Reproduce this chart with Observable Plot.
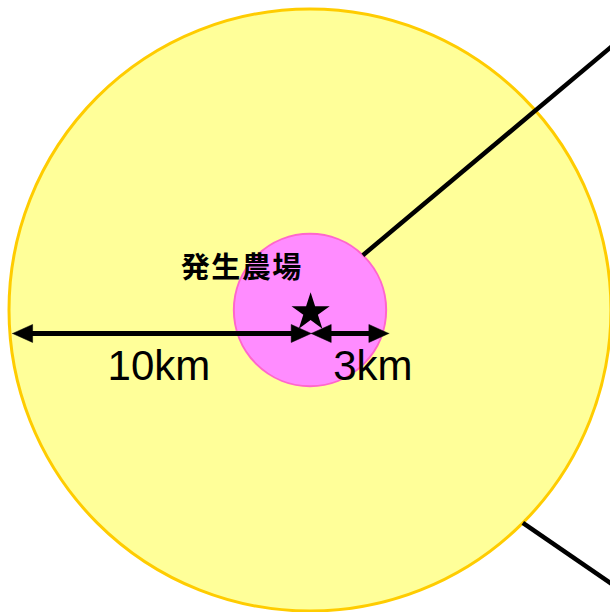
<!DOCTYPE html>
<html>
<head>
<meta charset="utf-8">
<script src="https://cdn.jsdelivr.net/npm/d3@7"></script>
<script src="https://cdn.jsdelivr.net/npm/@observablehq/plot@0.6"></script>
<style>
  html, body { margin: 0; padding: 0; background: #ffffff; overflow: hidden; }
</style>
</head>
<body>
<div id="chart"></div>
<script>
// ---- data (diagram units: the outer zone radius = 10) ----
const zoneLabels = ["10km", "3km"];
const zoneRadius = [10, 2.53];            // drawn radius of each zone
const zoneFill   = ["#FFFF99", "#FF8CFF"];
const zoneStroke = ["#FFCC00", "#FF66CC"];

const farmName = "発生農場";
const farmPos  = [0.02, -0.08];           // position of the farm (star)
const farmLabelPos = [-2.27, 1.38];

// radius arrows: [start, end] along x, at one y level
const arrowFrom = [-9.88, 0.04];
const arrowTo   = [0.04, 2.62];
const arrowY    = -0.78;
const arrowLabelPos = [[-5.02, -1.88], [2.09, -1.88]];

// callout lines: start on a zone edge at an angle, leave at a direction (degrees)
const calloutZone  = [1, 0];
const calloutStart = [46, -45];
const calloutDir   = [40, -34.5];
const calloutLen   = 12;

// ---- layout ----
const W = 610, H = 612, K = 30.1, cx = 309.5, cy = 309.5;
const headL = 20 / K, headW = 9 / K;
const rad = d => d * Math.PI / 180;

const zones = zoneLabels.map((label, i) => ({label, r: zoneRadius[i], fill: zoneFill[i], stroke: zoneStroke[i]}));

const arrows = arrowFrom.map((f, i) => ({from: f, to: arrowTo[i], y: arrowY}));
const heads = [];
arrows.forEach((a, i) => {
  [[a.from, -1], [a.to, 1]].forEach(([tx, d], j) => {
    const id = i + "-" + j;
    heads.push({id, x: tx, y: a.y});
    heads.push({id, x: tx - d * headL, y: a.y + headW});
    heads.push({id, x: tx - d * headL, y: a.y - headW});
    heads.push({id, x: tx, y: a.y});
  });
});

const callouts = calloutZone.map((z, i) => {
  const r = zoneRadius[z];
  const x1 = r * Math.cos(rad(calloutStart[i])), y1 = r * Math.sin(rad(calloutStart[i]));
  return {x1, y1, x2: x1 + calloutLen * Math.cos(rad(calloutDir[i])), y2: y1 + calloutLen * Math.sin(rad(calloutDir[i]))};
});

const labels = zoneLabels.map((t, i) => ({text: t, x: arrowLabelPos[i][0], y: arrowLabelPos[i][1]}));

const chart = Plot.plot({
  width: W,
  height: H,
  margin: 0,
  x: {domain: [-cx / K, (W - cx) / K], range: [0, W], axis: null},
  y: {domain: [-(H - cy) / K, cy / K], range: [H, 0], axis: null},
  r: {type: "linear", domain: [0, 10], range: [0, 10 * K]},
  style: {background: "white"},
  marks: [
    Plot.dot(zones, {x: () => 0, y: () => 0, r: "r", fill: d => d.fill, stroke: d => d.stroke, strokeWidth: (d) => d.label === "10km" ? 3 : 2}),
    Plot.link(callouts, {x1: "x1", y1: "y1", x2: "x2", y2: "y2", stroke: "black", strokeWidth: 4.5, clip: true}),
    Plot.link(arrows, {x1: d => d.from + headL * 0.5, x2: d => d.to - headL * 0.5, y1: "y", y2: "y", stroke: "black", strokeWidth: 5}),
    Plot.line(heads, {x: "x", y: "y", z: "id", fill: "black", stroke: "black", strokeWidth: 0.5}),
    Plot.dot([farmPos], {x: d => d[0], y: d => d[1], symbol: "star", r: 12, fill: "black", stroke: "none"}),
    Plot.text([farmName], {x: () => farmLabelPos[0], y: () => farmLabelPos[1], text: d => d, fontSize: 29, fontWeight: "bold", fontFamily: "Noto Sans CJK JP", fill: "black", className: "farm-label"}),
    Plot.text(labels, {x: "x", y: "y", text: "text", fontSize: 42, fontFamily: "Liberation Sans, Arial, sans-serif", fill: "black"})
  ]
});
d3.select(chart).selectAll(".farm-label text").style("letter-spacing", "1.5px");
document.getElementById("chart").appendChild(chart);
</script>
</body>
</html>
